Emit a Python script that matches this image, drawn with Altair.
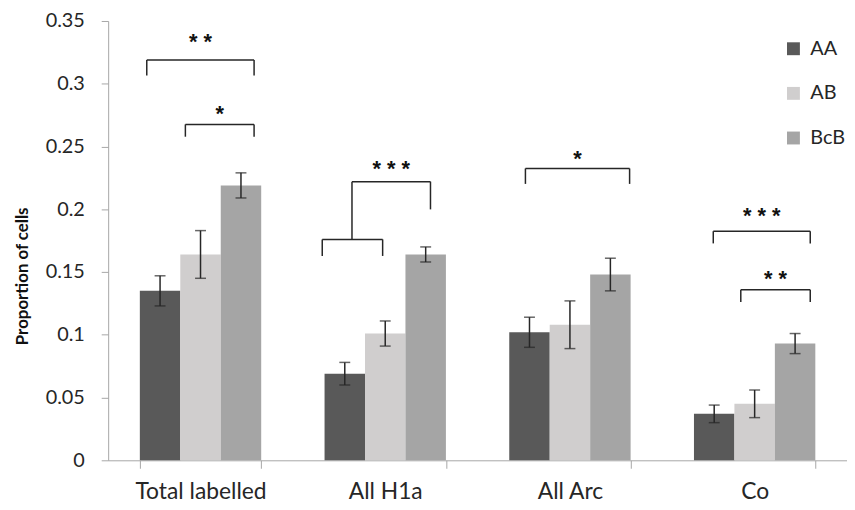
import altair as alt
import pandas as pd

# ---- data ----
categories = ["Total labelled", "All H1a", "All Arc", "Co"]
groups = ["AA", "AB", "BcB"]
colors = ["#595959", "#d0cece", "#a5a5a5"]

aa_mean = [0.135, 0.069, 0.102, 0.037]
ab_mean = [0.164, 0.101, 0.108, 0.045]
bcb_mean = [0.219, 0.164, 0.148, 0.093]
aa_err = [0.012, 0.009, 0.012, 0.007]
ab_err = [0.019, 0.010, 0.019, 0.011]
bcb_err = [0.010, 0.006, 0.013, 0.008]

# significance brackets (x in category units: category i spans i..i+1)
h_x1 = [0.209, 0.418, 1.159, 1.320, 2.259, 3.276, 3.425]
h_x2 = [0.790, 0.790, 1.486, 1.745, 2.823, 3.801, 3.801]
h_y = [0.319, 0.2676, 0.176, 0.222, 0.2325, 0.1825, 0.1359]

v_x = [0.209, 0.790, 0.418, 0.790, 1.159, 1.486, 1.320, 1.745, 2.259, 2.823, 3.276, 3.801, 3.425, 3.801]
v_top = [0.319, 0.319, 0.2676, 0.2676, 0.176, 0.176, 0.222, 0.222, 0.2325, 0.2325, 0.1825, 0.1825, 0.1359, 0.1359]
v_bot = [0.3065, 0.3065, 0.2578, 0.2578, 0.1628, 0.1628, 0.176, 0.1999, 0.2202, 0.2202, 0.1728, 0.1728, 0.1262, 0.1262]

star_text = ["* *", "*", "* * *", "*", "* * *", "* *"]
star_x = [0.4995, 0.604, 1.5325, 2.541, 3.5385, 3.613]
star_y = [0.337, 0.280, 0.236, 0.244, 0.1985, 0.148]

y_ticks = [0, 0.05, 0.1, 0.15, 0.2, 0.25, 0.3, 0.35]

# ---- tables ----
rows = []
for g, means, errs in zip(groups, [aa_mean, ab_mean, bcb_mean], [aa_err, ab_err, bcb_err]):
    for c, m, e in zip(categories, means, errs):
        rows.append({"cat": c, "grp": g, "mean": m, "lo": m - e, "hi": m + e})
bars_df = pd.DataFrame(rows)
h_df = pd.DataFrame({"x1": h_x1, "x2": h_x2, "y": h_y})
v_df = pd.DataFrame({"x": v_x, "y1": v_top, "y2": v_bot})
s_df = pd.DataFrame({"t": star_text, "x": star_x, "y": star_y})

FONT = "Lato"
yscale = alt.Scale(domain=[0, 0.35], nice=False, zero=True)
xband = alt.X(
    "cat:N",
    sort=categories,
    scale=alt.Scale(paddingInner=0.343, paddingOuter=0.1715),
    axis=alt.Axis(
        title=None, labelAngle=0, tickBand="extent", tickSize=8,
        tickColor="#a6a6a6", domainColor="#a6a6a6", labelFont=FONT,
        labelFontSize=23, labelColor="#262626", labelPadding=13,
    ),
)
xoff = alt.XOffset("grp:N", sort=groups, scale=alt.Scale(paddingInner=0, paddingOuter=0))

base = alt.Chart(bars_df)
bars = base.mark_bar().encode(
    x=xband,
    xOffset=xoff,
    y=alt.Y(
        "mean:Q", scale=yscale,
        axis=alt.Axis(
            title="Proportion of cells", values=y_ticks, format=".2~f", grid=False,
            tickSize=7, tickColor="#a6a6a6", domainColor="#a6a6a6",
            labelFont=FONT, labelFontSize=20, labelColor="#262626", labelPadding=17,
            titleFont=FONT, titleFontSize=17, titleFontWeight="bold", titleColor="#111111",
            titleX=-86, titleY=257, titleAngle=270, titleAlign="center", titleBaseline="middle",
        ),
    ),
    color=alt.Color(
        "grp:N", sort=groups, scale=alt.Scale(domain=groups, range=colors),
        legend=alt.Legend(
            title=None, orient="none", legendX=681, legendY=18, symbolType="square",
            symbolSize=169, symbolStrokeWidth=0, labelFont=FONT, labelFontSize=20,
            labelColor="#262626", rowPadding=25, labelOffset=7,
        ),
    ),
)
err = base.mark_rule(color="#262626", strokeWidth=1.5).encode(
    x=xband, xOffset=xoff, y=alt.Y("lo:Q", scale=yscale), y2="hi:Q"
)
cap_lo = base.mark_tick(color="#262626", thickness=1.5, size=11).encode(
    x=xband, xOffset=xoff, y=alt.Y("lo:Q", scale=yscale)
)
cap_hi = base.mark_tick(color="#262626", thickness=1.5, size=11).encode(
    x=xband, xOffset=xoff, y=alt.Y("hi:Q", scale=yscale)
)
bar_layer = alt.layer(bars, err, cap_lo, cap_hi)

xq = alt.Scale(domain=[0, 4], nice=False, zero=False)
hq = alt.Chart(h_df).mark_rule(color="#262626", strokeWidth=1.5).encode(
    x=alt.X("x1:Q", scale=xq, axis=None), x2="x2:Q", y=alt.Y("y:Q", scale=yscale)
)
vq = alt.Chart(v_df).mark_rule(color="#262626", strokeWidth=1.5).encode(
    x=alt.X("x:Q", scale=xq, axis=None), y=alt.Y("y1:Q", scale=yscale), y2="y2:Q"
)
stars = alt.Chart(s_df).mark_text(
    font="Liberation Sans", fontSize=22, fontWeight="bold", color="#111111", baseline="middle", dy=5
).encode(x=alt.X("x:Q", scale=xq, axis=None), y=alt.Y("y:Q", scale=yscale), text="t:N")
ann_layer = alt.layer(hq, vq, stars)

chart = (
    alt.layer(bar_layer, ann_layer)
    .resolve_scale(x="independent")
    .properties(
        width=745, height=443,
        autosize=alt.AutoSizeParams(type="none"),
        padding={"left": 101, "top": 11, "right": 0, "bottom": 45},
        background="white",
    )
    .configure_view(stroke=None)
)
chart.save("out.html", embed_options={"renderer": "svg", "actions": False})
